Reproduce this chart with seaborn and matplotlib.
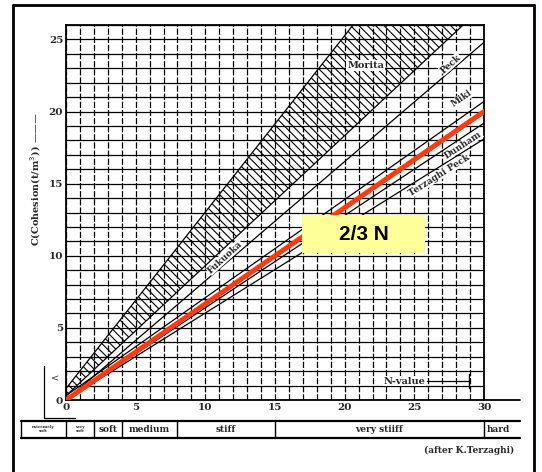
import numpy as np
import pandas as pd
import seaborn as sns
import matplotlib.pyplot as plt
from matplotlib.patches import Rectangle
from matplotlib.lines import Line2D

# N-value at the two ends of the straight lines
n_ends = [0, 30]

# cohesion (t/m2) at both ends of each line
red_c = [0, 20]            # 2/3 N overlay
miki_c = [0.3, 20.7]
dunham_c = [0, 19.2]
terzaghi_c = [0, 18.1]
peck_c = [0, 24.8]

# hatched Morita band (outline), clipped at the top of the chart
morita_n = [0, 20.6, 28.5, 0]
morita_c = [0.8, 26, 26, 0.3]

# consistency table under the axis (after K. Terzaghi)
consistency_bounds = [-3.2, 0, 2, 4, 8, 15, 30, 32.6]
consistency_labels = ["extremely\nsoft", "very\nsoft", "soft", "medium",
                      "stiff", "very stiiff", "hard"]

x_ticks = [0, 5, 10, 15, 20, 25, 30]
y_ticks = [0, 5, 10, 15, 20, 25]

sns.set_theme(style="white")
plt.rcParams['font.family'] = ['DejaVu Serif']
plt.rcParams['hatch.linewidth'] = 0.8

fig = plt.figure(figsize=(5.42, 4.72), dpi=100)
ax = fig.add_axes([0.1218, 0.1525, 0.7712, 0.7945])
ax.set_xlim(0, 30)
ax.set_ylim(0, 26)

# graph paper
ax.set_xticks(x_ticks)
ax.set_xticks(np.arange(0, 31, 1), minor=True)
ax.set_yticks(y_ticks)
ax.set_yticks(np.arange(0, 27, 1), minor=True)
ax.xaxis.grid(True, which='both', color='black', lw=0.9, ls=(0, (5, 1.5)))
ax.yaxis.grid(True, which='both', color='black', lw=0.9, ls='-')
ax.set_axisbelow(True)
ax.tick_params(which='both', length=0, labelsize=7.5, pad=2)
for lab in ax.get_xticklabels() + ax.get_yticklabels():
    lab.set_fontweight('bold')
for side in ['left', 'bottom', 'top', 'right']:
    ax.spines[side].set_color('black')
    ax.spines[side].set_linewidth(1.3)

# Morita band
ax.fill(morita_n, morita_c, facecolor='none', edgecolor='black',
        hatch='\\\\\\\\', lw=0.9, zorder=2)

lines = pd.DataFrame({'N': n_ends * 4,
                      'C': miki_c + dunham_c + terzaghi_c + peck_c,
                      'who': ['Miki'] * 2 + ['Dunham'] * 2 + ['Terzaghi'] * 2 + ['Peck'] * 2})
sns.lineplot(data=lines, x='N', y='C', units='who', estimator=None,
             color='black', lw=0.9, ax=ax, zorder=3)
sns.lineplot(x=n_ends, y=red_c, color='#ff3b0f', lw=3.6, ax=ax, zorder=5)
ax.set_xlabel('')
ax.set_ylabel('')


def along(x, y, slope, text, **kw):
    p0 = ax.transData.transform((x, y))
    p1 = ax.transData.transform((x + 1, y + slope))
    ang = np.degrees(np.arctan2(p1[1] - p0[1], p1[0] - p0[0]))
    ax.text(x, y, text, rotation=ang, rotation_mode='anchor', ha='center',
            va='center', fontsize=6.5, fontweight='bold', zorder=4,
            bbox=dict(facecolor='white', edgecolor='none', pad=0.3), **kw)


along(11.4, 9.9, 0.88, 'Fukuoka')
along(27.6, 23.3, 0.86, 'Peck')
along(28.4, 20.9, 0.68, 'Miki')
along(28.5, 17.7, 0.64, 'Dunham')
along(26.8, 15.6, 0.61, 'Terzaghi Peck')
ax.text(21.5, 23.2, 'Morita', ha='center', va='center', fontsize=7,
        fontweight='bold', zorder=4,
        bbox=dict(facecolor='white', edgecolor='none', pad=0.5))

# N-value marker
ax.text(24.3, 1.3, 'N-value', ha='center', va='center', fontsize=7,
        fontweight='bold', zorder=4,
        bbox=dict(facecolor='white', edgecolor='none', pad=0.3))
ax.plot([25.9, 28.9], [1.3, 1.3], color='black', lw=0.9, zorder=4)
ax.plot([28.9, 28.9], [0.8, 1.8], color='black', lw=1.0, zorder=4)

# yellow callout
ax.add_patch(Rectangle((16.94, 10.19), 8.83, 2.64, facecolor='#ffff99',
                       edgecolor='none', zorder=6))
ax.text(21.35, 11.5, '2/3 N', ha='center', va='center', fontsize=15,
        fontweight='bold', family='Liberation Sans', color='black', zorder=7)

# y label
fig.text(0.066, 0.62, 'C(Cohesion(t/m$^3$)) ———', rotation=90, ha='center',
         va='center', fontsize=7, fontweight='bold')

# consistency table
tr = ax.get_xaxis_transform()
y_top, y_bot = -0.056, -0.101
ax.add_line(Line2D([consistency_bounds[0], consistency_bounds[-1]], [y_top, y_top],
                   transform=tr, color='black', lw=1.6, clip_on=False))
ax.add_line(Line2D([consistency_bounds[0], consistency_bounds[-1]], [y_bot, y_bot],
                   transform=tr, color='black', lw=1.6, clip_on=False))
ax.add_line(Line2D([30, 32.6], [0, 0], transform=tr, color='black', lw=1.3,
                   clip_on=False))
for b in consistency_bounds[:-1]:
    ax.add_line(Line2D([b, b], [y_top, y_bot], transform=tr, color='black',
                       lw=1.0, clip_on=False))
for i, lab in enumerate(consistency_labels):
    lo, hi = consistency_bounds[i], consistency_bounds[i + 1]
    small = i < 2
    ax.text((lo + hi) / 2 if i < 6 else lo + 0.2, (y_top + y_bot) / 2, lab,
            transform=tr, ha='center' if i < 6 else 'left', va='center',
            fontsize=3 if small else 6.5, fontweight='bold',
            linespacing=1.0, clip_on=False)
ax.text(32.2, -0.135, '(after K.Terzaghi)', transform=tr, ha='right',
        va='center', fontsize=6.5, fontweight='bold', clip_on=False)

# scan marks near the origin
fig.add_artist(Line2D([0.081, 0.081], [0.115, 0.225], color='black', lw=0.9))
fig.add_artist(Line2D([0.081, 0.138], [0.115, 0.115], color='black', lw=0.9))
fig.text(0.101, 0.197, '<', fontsize=7, ha='center', va='center')

# outer frame
fig.add_artist(Line2D([0.024, 0.024], [0.0, 0.989], color='black', lw=2))
fig.add_artist(Line2D([0.024, 0.985], [0.989, 0.989], color='black', lw=2))
fig.add_artist(Line2D([0.985, 0.985], [0.0, 0.989], color='black', lw=2))

fig.savefig('out.png', dpi=100)
